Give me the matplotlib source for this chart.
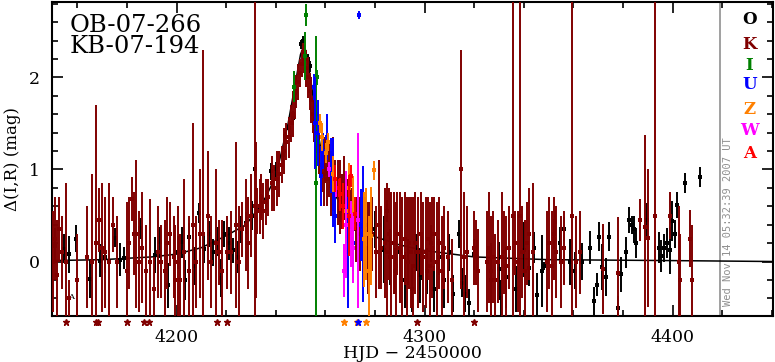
import matplotlib
matplotlib.use('Agg')
import matplotlib.pyplot as plt
import numpy as np

# ---------------- data (HJD-2450000, delta mag, error) ----------------
O_pts = [
    (4151.0, 0.17, 0.19), (4154.7, 0.14, 0.16), (4156.7, 0.08, 0.20), (4159.5, 0.25, 0.15),
    (4165.2, -0.19, 0.21), (4169.0, 0.01, 0.18), (4171.0, 0.05, 0.17), (4175.3, 0.26, 0.10),
    (4177.3, 0.02, 0.18), (4178.9, 0.04, 0.12), (4185.4, 0.36, 0.11), (4191.5, 0.07, 0.20),
    (4193.5, 0.21, 0.17), (4196.4, -0.26, 0.24), (4200.5, 0.10, 0.18), (4202.4, 0.21, 0.17),
    (4203.6, -0.20, 0.22), (4204.9, 0.27, 0.15), (4207.3, -0.05, 0.21), (4208.9, 0.53, 0.11),
    (4211.0, 0.14, 0.16), (4213.0, 0.30, 0.14), (4214.6, 0.10, 0.15), (4216.6, 0.22, 0.16),
    (4217.8, -0.18, 0.21), (4219.0, 0.30, 0.14), (4221.0, 0.20, 0.18), (4222.7, 0.12, 0.14),
    (4224.7, 0.05, 0.17), (4226.0, 0.35, 0.15), (4228.0, 0.42, 0.12), (4230.4, 0.50, 0.16),
    (4231.6, 1.00, 0.07), (4234.0, 0.60, 0.13), (4236.0, 0.67, 0.11), (4238.0, 0.98, 0.09),
    (4240.0, 1.00, 0.08), (4243.0, 1.16, 0.09), (4243.7, 1.36, 0.05), (4245.5, 1.45, 0.06),
    (4247.0, 1.56, 0.08), (4247.6, 1.83, 0.06), (4250.2, 2.36, 0.05), (4251.0, 2.40, 0.05),
    (4253.0, 2.20, 0.06), (4253.8, 2.12, 0.06), (4259.0, 1.20, 0.10), (4262.0, 0.90, 0.10),
    (4266.0, 0.55, 0.12), (4270.0, 0.50, 0.15), (4276.0, 0.40, 0.20), (4278.0, 0.30, 0.15),
    (4280.0, 0.35, 0.20), (4283.8, 0.13, 0.36), (4285.0, 0.55, 0.12), (4286.0, 0.05, 0.30),
    (4288.0, -0.10, 0.25), (4290.0, 0.10, 0.30), (4292.0, -0.20, 0.30), (4293.5, 0.00, 0.25),
    (4295.0, -0.30, 0.25), (4296.5, 0.10, 0.20), (4298.0, -0.15, 0.30), (4299.0, 0.05, 0.25),
    (4301.0, -0.10, 0.25), (4302.5, 0.20, 0.20), (4304.0, -0.30, 0.25), (4306.0, 0.05, 0.20),
    (4308.0, -0.20, 0.30), (4310.0, 0.10, 0.20), (4311.5, -0.35, 0.20), (4313.8, 0.30, 0.15),
    (4315.0, -0.23, 0.16), (4316.5, -0.35, 0.20), (4317.8, -0.45, 0.15), (4320.0, 0.08, 0.17),
    (4321.0, 0.05, 0.18), (4327.0, -0.20, 0.40), (4330.0, -0.08, 0.29), (4331.0, -0.40, 0.20),
    (4333.0, -0.17, 0.33), (4337.0, -0.30, 0.25), (4340.0, 0.13, 0.30), (4342.0, -0.07, 0.20),
    (4344.0, 0.15, 0.17), (4345.3, -0.36, 0.24), (4347.4, -0.10, 0.39), (4348.3, -0.05, 0.04),
    (4352.0, 0.30, 0.16), (4352.6, 0.43, 0.13), (4354.7, 0.20, 0.18), (4356.3, 0.35, 0.13),
    (4358.7, 0.00, 0.25), (4360.7, -0.10, 0.20), (4363.6, 0.00, 0.20), (4366.8, 0.15, 0.18),
    (4368.4, -0.43, 0.15), (4369.6, -0.25, 0.12), (4370.4, 0.27, 0.16), (4371.7, -0.06, 0.25),
    (4373.3, -0.17, 0.21), (4374.5, 0.27, 0.16), (4378.0, -0.50, 0.12), (4379.3, -0.14, 0.19),
    (4381.4, 0.10, 0.17), (4382.6, 0.45, 0.14), (4383.8, 0.40, 0.10), (4384.6, 0.35, 0.15),
    (4385.4, 0.20, 0.16), (4389.5, 0.45, 0.19), (4394.7, 0.15, 0.17), (4395.5, 0.06, 0.17),
    (4396.7, 0.15, 0.15), (4397.6, 0.20, 0.16), (4398.8, 0.12, 0.26), (4399.6, 0.44, 0.22),
    (4400.8, 0.30, 0.15), (4401.6, 0.61, 0.14), (4404.9, 0.85, 0.11), (4411.0, 0.92, 0.11),
]

K_pts = [
    (4150.4, 0.00, 0.55), (4151.2, 0.25, 0.45), (4152.0, -0.15, 0.60), (4152.6, 0.35, 0.35),
    (4154.0, 0.10, 0.40), (4155.3, 0.00, 0.85), (4156.8, -0.40, 0.20), (4160.0, -0.20, 0.50),
    (4163.9, 0.05, 0.55), (4165.8, 0.00, 0.95), (4167.6, 0.20, 1.50), (4168.6, 0.45, 0.35),
    (4169.8, 0.15, 0.70), (4171.0, 0.10, 0.60), (4172.8, 0.00, 0.85), (4174.5, 0.40, 0.30),
    (4176.0, 0.00, 0.50), (4180.0, -0.10, 0.75), (4181.0, 0.20, 0.50), (4182.0, 0.68, 0.24),
    (4183.0, 0.30, 0.45), (4183.8, 0.30, 0.80), (4185.0, 0.00, 0.55), (4186.0, 0.15, 0.60),
    (4187.5, -0.10, 0.50), (4189.2, 0.00, 0.68), (4190.8, -0.30, 0.35), (4192.5, 0.10, 0.50),
    (4193.8, 0.00, 0.40), (4195.2, -0.10, 0.55), (4196.0, 0.20, 0.50), (4197.3, 0.30, 0.35),
    (4198.8, 0.05, 0.45), (4199.5, -0.20, 0.60), (4200.5, 0.00, 0.60), (4201.5, -0.20, 0.50),
    (4203.0, 0.10, 0.80), (4205.0, -0.10, 0.60), (4206.5, 0.40, 1.10), (4207.8, 0.00, 0.50),
    (4209.5, 0.30, 0.70), (4210.8, 0.30, 2.00), (4212.5, 0.50, 0.70), (4214.0, 0.00, 0.50),
    (4215.8, 0.20, 0.80), (4217.0, 0.10, 0.35), (4218.5, -0.10, 0.55), (4220.5, 0.10, 0.40),
    (4222.0, 0.10, 0.45), (4224.0, 0.40, 0.90), (4225.0, 0.00, 0.60), (4226.5, 0.35, 0.30),
    (4228.0, 0.40, 0.50), (4229.0, 0.20, 0.50), (4230.0, 0.50, 0.45), (4231.6, 0.60, 2.40),
    (4232.0, 0.45, 0.85), (4232.5, 0.55, 0.25), (4233.5, 0.60, 0.30), (4234.2, 0.70, 0.25),
    (4235.0, 0.55, 0.30), (4236.0, 0.65, 0.25), (4237.0, 0.70, 0.20), (4238.5, 0.85, 0.30),
    (4239.5, 0.80, 0.25), (4240.5, 0.90, 0.30), (4241.5, 0.95, 0.25), (4242.5, 1.05, 0.20),
    (4243.5, 1.20, 0.25), (4244.3, 1.30, 0.20), (4245.3, 1.35, 0.22), (4246.0, 1.50, 0.20),
    (4246.8, 1.60, 0.25), (4247.6, 1.75, 0.20), (4248.3, 1.85, 0.18), (4249.0, 1.95, 0.20),
    (4249.6, 2.05, 0.15), (4250.4, 2.15, 0.15), (4251.0, 2.25, 0.12), (4251.6, 2.20, 0.15),
    (4252.3, 2.10, 0.20), (4253.0, 2.00, 0.22), (4253.7, 1.85, 0.20), (4254.4, 1.75, 0.25),
    (4255.0, 1.60, 0.20), (4255.6, 1.50, 0.20), (4256.2, 1.40, 0.22), (4256.9, 1.30, 0.20),
    (4257.5, 1.20, 0.25), (4258.5, 1.05, 0.30), (4259.3, 0.95, 0.35), (4260.0, 1.10, 0.25),
    (4260.8, 0.90, 0.30), (4261.6, 1.00, 0.30), (4262.4, 0.85, 0.35), (4263.2, 0.95, 0.40),
    (4264.0, 0.80, 0.30), (4265.0, 0.75, 0.35), (4265.8, 0.70, 0.40), (4266.6, 0.65, 0.30),
    (4267.4, 0.80, 0.35), (4268.2, 0.60, 0.30), (4269.0, 0.55, 0.35), (4270.0, 0.65, 0.30),
    (4270.8, 0.50, 0.30), (4272.4, 0.35, 0.35), (4274.0, 0.30, 0.40), (4275.0, 0.25, 0.45),
    (4276.2, 0.30, 0.40), (4277.2, 0.15, 0.50), (4278.0, 0.20, 0.45), (4279.0, 0.30, 0.40),
    (4280.5, 0.10, 0.50), (4281.5, 0.40, 0.70), (4282.5, 0.15, 0.45), (4284.0, 0.20, 0.60),
    (4285.0, 0.10, 0.75), (4285.8, 0.30, 0.50), (4286.6, 0.05, 0.70), (4287.5, 0.20, 0.55),
    (4288.3, -0.05, 0.70), (4289.0, 0.30, 0.45), (4290.0, 0.15, 0.60), (4291.0, 0.05, 0.65),
    (4292.0, 0.25, 0.50), (4292.8, 0.00, 0.70), (4293.6, 0.20, 0.50), (4294.5, 0.10, 0.60),
    (4295.4, -0.05, 0.75), (4296.3, 0.20, 0.55), (4297.5, 0.10, 0.60), (4298.5, 0.30, 0.45),
    (4299.5, 0.05, 0.60), (4300.5, 0.10, 0.60), (4301.5, 0.25, 0.45), (4302.3, -0.05, 0.70),
    (4303.2, 0.15, 0.55), (4304.0, 0.30, 0.40), (4305.0, 0.00, 0.65), (4306.0, 0.20, 0.50),
    (4307.0, -0.10, 0.60), (4308.0, 0.15, 0.45), (4309.5, 0.05, 0.50), (4311.0, -0.20, 0.45),
    (4314.6, 1.00, 1.30), (4316.0, 0.05, 0.70), (4317.0, 0.10, 0.50), (4319.8, 0.15, 0.40),
    (4320.6, 0.10, 0.35), (4321.4, -0.10, 0.45), (4325.0, 0.00, 0.55), (4326.0, 0.15, 0.60),
    (4326.8, -0.10, 0.60), (4327.6, 0.05, 0.50), (4328.5, -0.20, 0.50), (4329.5, 0.00, 0.45),
    (4331.2, 0.05, 0.70), (4332.0, 0.10, 0.45), (4333.0, -0.05, 0.55), (4334.0, 0.15, 0.45),
    (4335.6, 0.50, 3.00), (4336.5, 0.20, 0.35), (4337.5, 0.00, 0.55), (4338.5, 0.50, 3.00),
    (4339.5, 0.10, 0.50), (4340.5, -0.10, 0.55), (4341.5, 0.20, 0.45), (4342.3, 0.30, 0.50),
    (4343.7, 0.10, 0.75), (4349.5, 0.00, 0.55), (4350.3, 0.20, 0.50), (4351.2, -0.05, 0.60),
    (4352.2, 0.25, 0.45), (4353.0, 0.10, 0.50), (4355.0, 0.00, 0.50), (4356.3, 0.15, 0.40),
    (4359.5, 0.50, 3.00), (4361.0, 0.00, 0.50), (4362.5, 0.10, 0.45), (4372.0, -0.08, 0.49),
    (4378.0, -0.12, 0.60), (4387.0, 0.45, 0.23), (4389.0, 0.37, 1.00), (4390.0, 0.26, 0.75),
    (4393.0, 0.50, 3.00), (4398.8, 0.50, 0.25), (4402.4, 0.00, 0.60), (4403.0, -0.20, 0.50),
    (4407.0, 0.25, 0.31), (4408.0, -0.20, 0.60),
]

I_pts = [(4247.4, 1.90, 0.17), (4251.8, 2.23, 0.26), (4252.2, 2.68, 0.12), (4256.3, 0.85, 1.60),
         (4256.6, 2.00, 0.08), (4257.0, 1.30, 0.10), (4256.4, 1.60, 0.10)]
U_pts = [(4255.5, 1.90, 0.14), (4256.0, 1.50, 0.50), (4257.0, 1.40, 0.36), (4258.3, 0.93, 0.33),
         (4259.0, 1.20, 0.20), (4260.5, 1.35, 0.25), (4262.3, 1.04, 0.30), (4263.0, 0.86, 0.48),
         (4264.0, 0.50, 0.30), (4269.0, 0.10, 0.60), (4271.3, 0.20, 0.30), (4273.7, 2.68, 0.04),
         (4274.5, 0.40, 0.39), (4275.3, 0.30, 0.74)]
Z_pts = [(4257.9, 1.50, 0.10), (4258.5, 1.35, 0.15), (4260.3, 1.18, 0.11), (4261.0, 1.30, 0.10),
         (4263.0, 0.95, 0.20), (4268.4, 0.55, 0.29), (4269.6, 0.80, 0.27), (4271.3, 0.60, 0.33),
         (4275.7, 0.24, 0.52), (4276.5, 0.30, 0.50), (4277.8, -0.10, 0.60), (4278.5, 0.28, 0.53),
         (4279.8, 0.99, 0.10)]
W_pts = [(4261.5, 1.00, 0.08), (4264.5, 0.80, 0.10), (4267.6, -0.10, 0.29), (4268.4, 0.40, 0.58),
         (4270.4, 0.30, 0.36), (4271.3, 0.15, 0.38), (4273.0, 0.45, 0.95)]
A_pts = [(4264.0, 0.90, 0.15), (4265.6, 0.80, 0.10), (4266.0, 0.73, 0.18), (4267.0, 0.60, 0.25),
         (4269.6, 0.50, 0.44), (4270.5, 0.93, 0.12), (4272.0, 0.52, 0.18)]

# points below the plotted range (drawn as stars under the axis)
K_low = [4155.5, 4167.6, 4168.4, 4180.2, 4187.0, 4189.0, 4216.2, 4220.2, 4296.8, 4319.8]
Z_low = [4267.6, 4272.9, 4276.5]
U_low = [4273.3]

# model curve samples
model_t = [4149, 4170, 4190, 4200, 4210, 4220, 4228, 4235, 4240, 4245, 4248, 4250, 4251,
           4252, 4254, 4256, 4258, 4260, 4264, 4270, 4280, 4290, 4300, 4320, 4350, 4400, 4441]
model_y = [0.01, 0.02, 0.05, 0.08, 0.15, 0.28, 0.40, 0.65, 0.92, 1.50, 1.95, 2.25, 2.32,
           2.30, 2.00, 1.60, 1.25, 1.00, 0.72, 0.45, 0.27, 0.18, 0.12, 0.05, 0.02, 0.01, 0.00]

series = [('O', O_pts, '#000000'), ('K', K_pts, '#800000'), ('I', I_pts, '#008000'),
          ('U', U_pts, '#0000ff'), ('Z', Z_pts, '#ff8000'), ('W', W_pts, '#ff00ff'),
          ('A', A_pts, '#ff0000')]

# ---------------- figure ----------------
plt.rcParams['font.family'] = ['DejaVu Serif']
fig = plt.figure(figsize=(7.75, 3.62), dpi=100)
ax = fig.add_axes([52/775, 46/362, 721/775, 314/362])

for i, (name, pts, col) in enumerate(series):
    t = [p[0] for p in pts]
    y = [p[1] for p in pts]
    e = [p[2] for p in pts]
    ax.errorbar(t, y, yerr=e, fmt='s', ms=2.4, color=col, ecolor=col,
                elinewidth=1.4, capsize=1.8, capthick=1.3, mew=0, zorder=3 + i)

ax.plot(model_t, model_y, color='black', lw=1.1, zorder=3.5)

ylo = -0.592
star_y = -0.658
for arr, col in [(K_low, '#800000'), (Z_low, '#ff8000'), (U_low, '#0000ff')]:
    ax.plot(arr, [star_y]*len(arr), linestyle='none', marker='*', ms=5, color=col,
            clip_on=False)

ax.text(4157.5, -0.39, 'A', fontsize=6, ha='center', va='center', color='black')

ax.axvline(4419.2, color='#909090', lw=1.2)
ax.text(4422.5, -0.48, 'Wed Nov 14 05:32:39 2007 UT', rotation=90, fontsize=7.5,
        family='DejaVu Sans Mono', color='#909090', ha='center', va='bottom')

ax.text(4157.1, 2.45, 'OB-07-266\nKB-07-194', fontsize=17.5, va='center', ha='left',
        linespacing=0.9)

leg_y = [2.63, 2.36, 2.13, 1.92, 1.65, 1.42, 1.17]
for (name, pts, col), yy in zip(series, leg_y):
    ax.text(4431, yy, name, color=col, fontsize=12, fontweight='bold', ha='center', va='center')

ax.set_xlim(4149.8, 4440.5)
ax.set_ylim(ylo, 2.82)
ax.set_xticks([4200, 4300, 4400])
ax.set_xticks(np.arange(4160, 4441, 20), minor=True)
ax.set_yticks([0, 1, 2])
ax.set_yticks(np.arange(-0.4, 2.81, 0.2), minor=True)
ax.tick_params(which='both', direction='in', top=True, right=True, labelsize=12.5, width=1.2)
ax.tick_params(which='major', length=8)
ax.tick_params(which='minor', length=4.5)
ax.tick_params(axis='x', which='major', pad=9)
ax.tick_params(axis='y', which='major', pad=9)
for s in ax.spines.values():
    s.set_linewidth(1.5)

ax.set_xlabel('HJD \u2212 2450000', fontsize=12.5, labelpad=0)
ax.set_ylabel('\u0394(I,R) (mag)', fontsize=12, labelpad=5)

fig.savefig('out.png', dpi=100)
